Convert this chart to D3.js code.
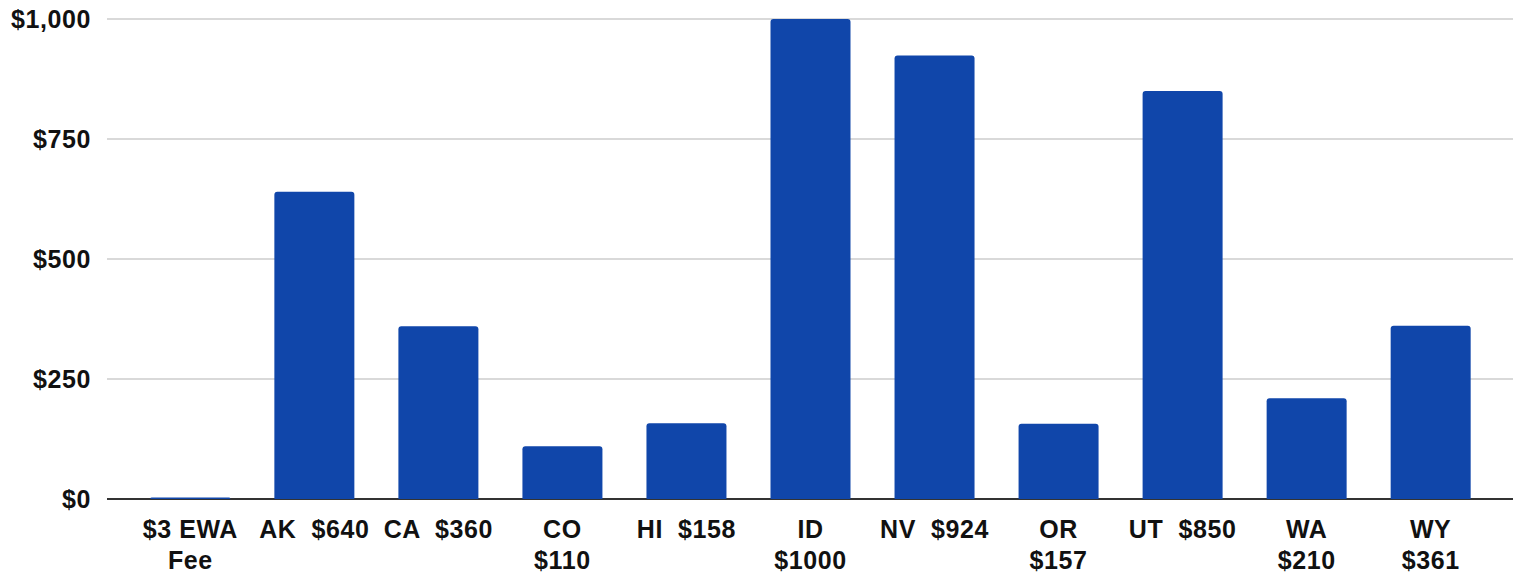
<!DOCTYPE html>
<html>
<head>
<meta charset="utf-8">
<script src="https://cdn.jsdelivr.net/npm/d3@7"></script>
<style>
  body { margin: 0; background: #fff; }
  text { font-family: "Liberation Sans", Arial, sans-serif; font-weight: bold; }
</style>
</head>
<body>
<div id="chart"></div>
<script>
// data
var categories = ["EWA", "AK", "CA", "CO", "HI", "ID", "NV", "OR", "UT", "WA", "WY"];
var values = [3, 640, 360, 110, 158, 1000, 924, 157, 850, 210, 361];
var tickLabels = ["$3 EWA|Fee", "AK  $640", "CA  $360", "CO|$110", "HI  $158", "ID|$1000",
                  "NV  $924", "OR|$157", "UT  $850", "WA|$210", "WY|$361"];
var yTicks = [0, 250, 500, 750, 1000];

var width = 1513, height = 573;
var svg = d3.select("#chart").append("svg").attr("width", width).attr("height", height);

var x = d3.scaleBand().domain(categories).range([128, 1493]).paddingInner(0.355).paddingOuter(0.18);
var y = d3.scaleLinear().domain([0, 1000]).range([499, 19]);

// grid lines
svg.append("g").selectAll("line").data(yTicks.slice(1)).join("line")
    .attr("x1", 107).attr("x2", width)
    .attr("y1", d => y(d)).attr("y2", d => y(d))
    .attr("stroke", "#cccccc").attr("stroke-width", 1.5);

// zero line (under the bars, the tiny $3 bar shows on top of it)
svg.append("line").attr("x1", 107).attr("x2", width).attr("y1", y(0)).attr("y2", y(0))
    .attr("stroke", "#333").attr("stroke-width", 2);

// y labels
svg.append("g").selectAll("text").data(yTicks).join("text")
    .attr("x", 91).attr("y", d => y(d) + 9)
    .attr("text-anchor", "end")
    .style("font-size", "25px").style("letter-spacing", "0.6px").attr("fill", "#111")
    .text(d => "$" + d3.format(",")(d));

// bars
svg.append("g").selectAll("path").data(values).join("path")
    .attr("fill", "#1046aa")
    .attr("d", function(d, i) {
        var x0 = x(categories[i]), w = x.bandwidth(), y0 = y(d), h = y(0) - y(d);
        var r = Math.min(3, h);
        return "M" + x0 + "," + y(0) + "V" + (y0 + r) + "Q" + x0 + "," + y0 + " " + (x0 + r) + "," + y0 +
               "H" + (x0 + w - r) + "Q" + (x0 + w) + "," + y0 + " " + (x0 + w) + "," + (y0 + r) + "V" + y(0) + "Z";
    });

// x labels
var xl = svg.append("g").selectAll("text").data(categories).join("text")
    .attr("text-anchor", "middle")
    .style("font-size", "25px").style("letter-spacing", "0.6px").attr("fill", "#111");
xl.each(function(d, i) {
    var lines = tickLabels[i].split("|");
    var t = d3.select(this);
    lines.forEach(function(line, j) {
        t.append("tspan").attr("x", x(d) + x.bandwidth() / 2).attr("y", 538 + j * 31)
            .attr("xml:space", "preserve").text(line);
    });
});
</script>
</body>
</html>
